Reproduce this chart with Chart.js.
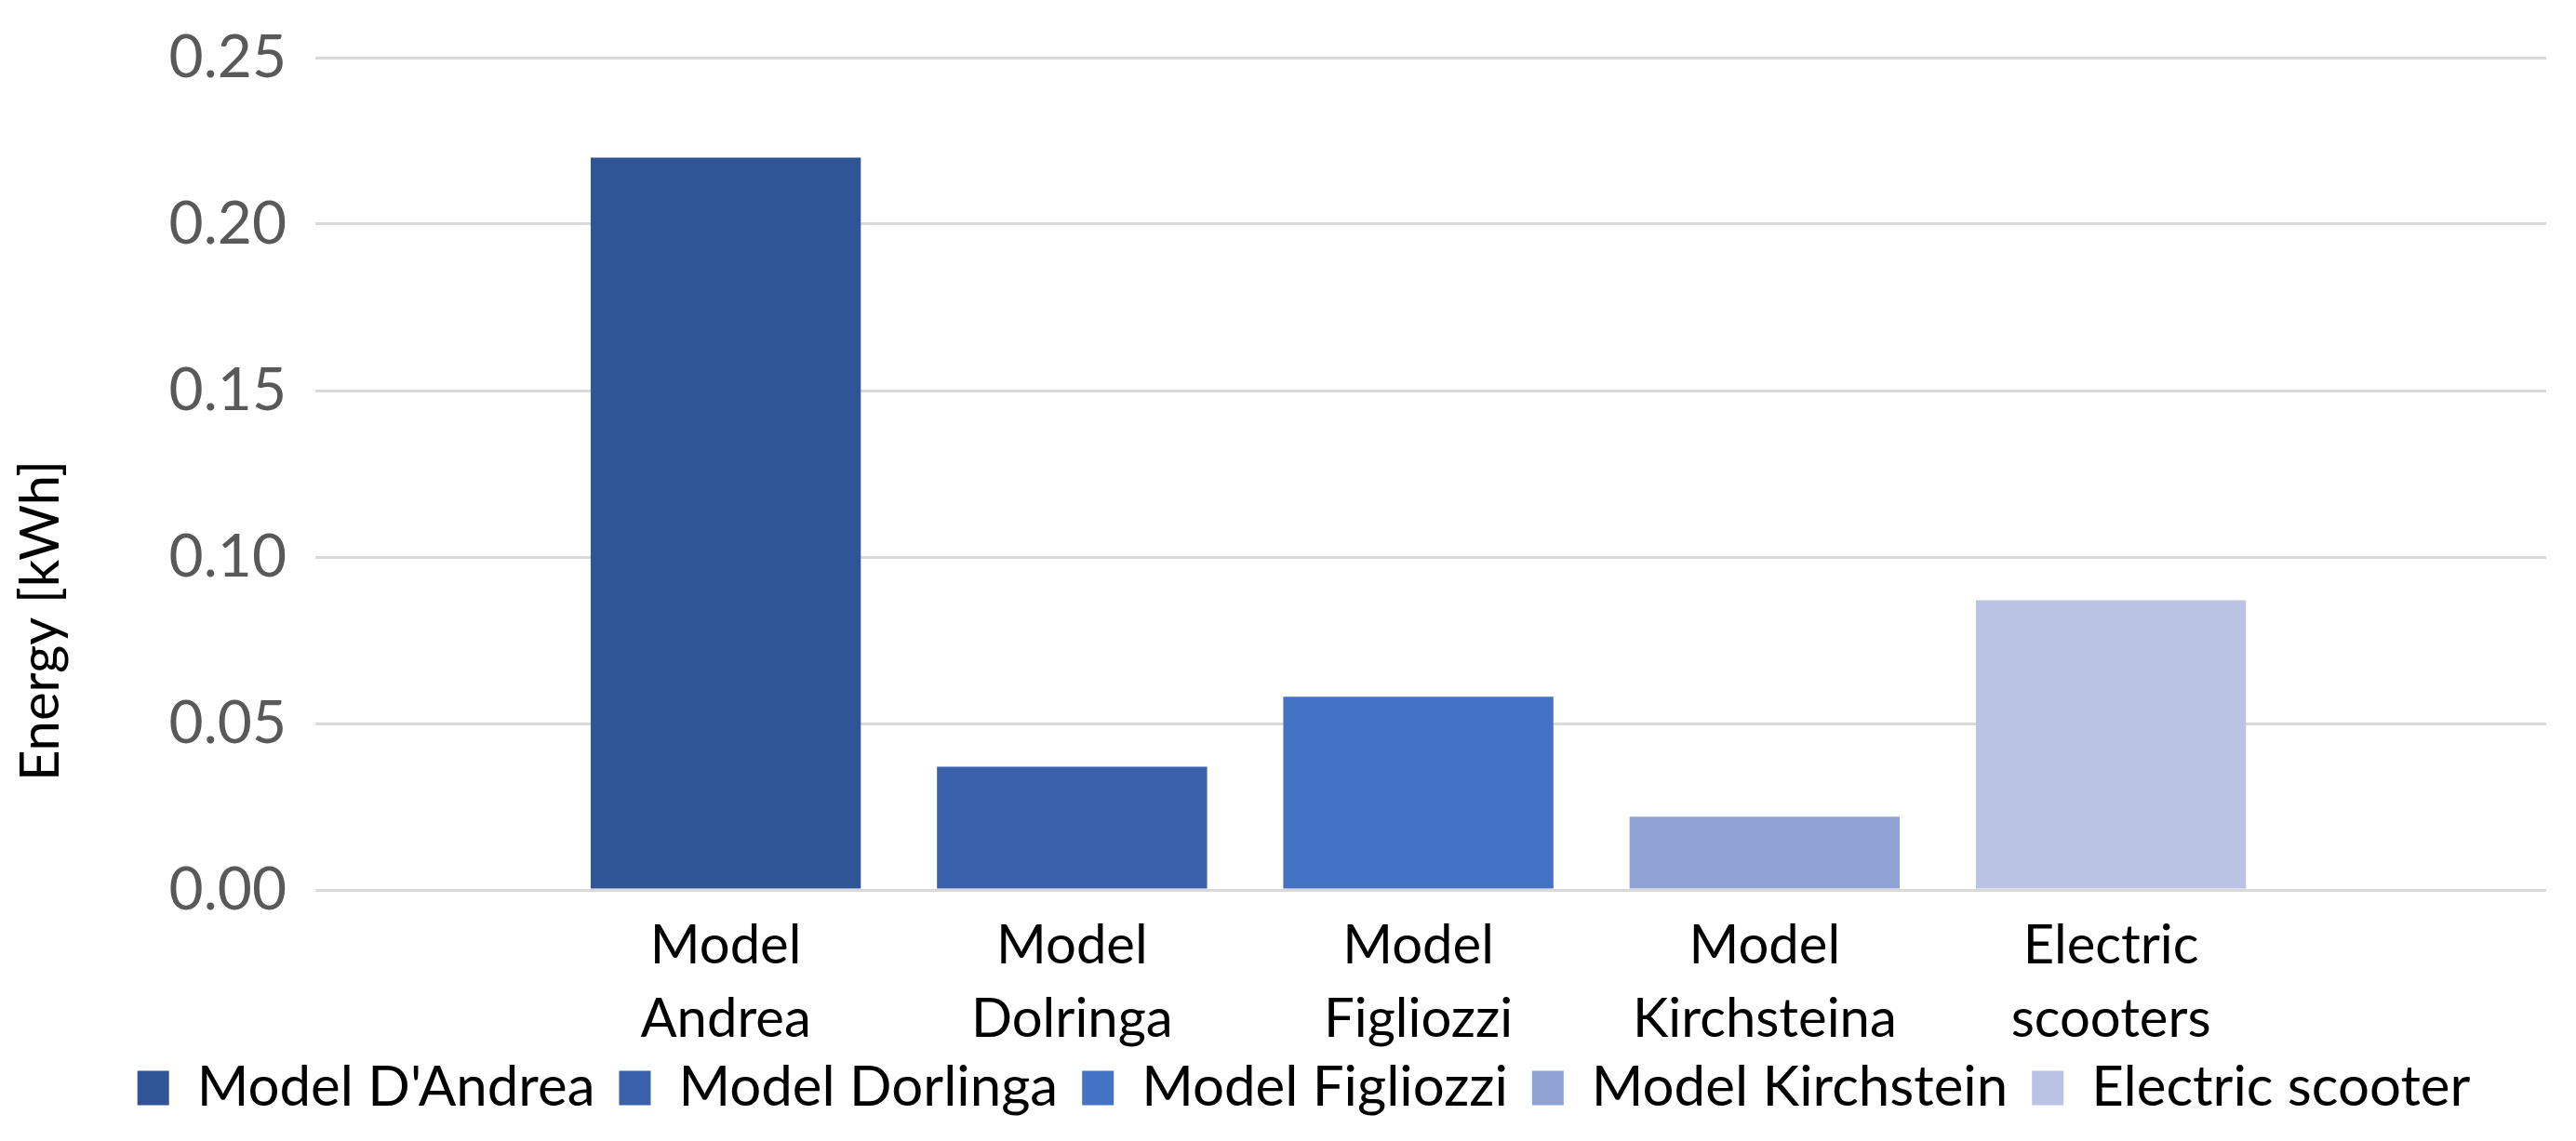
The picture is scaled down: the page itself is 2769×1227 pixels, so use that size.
<!DOCTYPE html>
<html><head><meta charset="utf-8">
<script src="https://cdn.jsdelivr.net/npm/chart.js@4"></script>
<style>html,body{margin:0;padding:0;background:#fff}</style>
</head><body>
<canvas id="c" width="2769" height="1227"></canvas>
<script>
const categories = [["Model","Andrea"],["Model","Dolringa"],["Model","Figliozzi"],["Model","Kirchsteina"],["Electric","scooters"]];
const seriesNames = ["Model D'Andrea","Model Dorlinga","Model Figliozzi","Model Kirchstein","Electric scooter"];
const energyValues = [0.220, 0.037, 0.058, 0.022, 0.087];
const seriesColors = ['#2F5597','#3A62AC','#4472C4','#8FA2D4','#B9C3E3'];
const yTicks = [0, 0.05, 0.10, 0.15, 0.20, 0.25];
const yTitle = 'Energy [kWh]';

const FONT = "Lato, 'Open Sans', sans-serif";

const yTitlePlugin = {
  id: 'yTitleDraw',
  afterUpdate(chart) {
    // let the two-line category labels run below the axis box
    if (chart.scales.x) chart.scales.x._computeLabelArea = () => undefined;
  },
  afterDraw(chart) {
    const ctx = chart.ctx;
    const ys = chart.scales.y;
    ctx.save();
    ctx.translate(44, (ys.top + ys.bottom) / 2 + 158);
    ctx.rotate(-Math.PI / 2);
    ctx.font = "58px " + FONT;
    ctx.fillStyle = '#000';
    ctx.textAlign = 'center';
    ctx.textBaseline = 'middle';
    ctx.fillText(ys.options.title.text, 0, 0);
    ctx.restore();
  }
};

const datasets = seriesNames.map((name, i) => ({
  label: name,
  data: [{x: i, y: energyValues[i]}],
  backgroundColor: seriesColors[i],
  borderWidth: 0,
  grouped: false,
  categoryPercentage: 1,
  barPercentage: 0.78
}));

new Chart(document.getElementById('c'), {
  type: 'bar',
  data: { datasets },
  plugins: [yTitlePlugin],
  options: {
    responsive: false,
    animation: false,
    devicePixelRatio: 1,
    layout: { padding: { top: 62, right: 32, left: 66, bottom: 17 } },
    plugins: {
      tooltip: { enabled: false },
      legend: {
        position: 'bottom',
        labels: {
          font: { family: FONT, size: 60 },
          color: '#000',
          boxWidth: 34,
          boxHeight: 37,
          padding: 26
        }
      }
    },
    scales: {
      x: {
        type: 'linear',
        offset: false,
        min: -1.185,
        max: 5.257,
        afterBuildTicks: (scale) => { scale.ticks = categories.map((c, i) => ({ value: i })); },
        afterFit: (scale) => { scale.height = 157; },
        grid: { display: false, offset: false },
        border: { display: false },
        ticks: {
          autoSkip: false,
          maxRotation: 0,
          minRotation: 0,
          padding: 13,
          color: '#000',
          font: { family: FONT, size: 58, lineHeight: 1.36 },
          callback: (v) => categories[v]
        }
      },
      y: {
        min: 0,
        max: 0.25,
        afterBuildTicks: (scale) => { scale.ticks = yTicks.map(v => ({ value: v })); },
        afterFit: (scale) => { scale.width = 273; scale.paddingTop = 0; scale.paddingBottom = 0; },
        title: { display: false, text: yTitle },
        grid: { color: '#d9d9d9', lineWidth: 3, drawTicks: false },
        border: { display: false },
        ticks: {
          padding: 31,
          color: '#595959',
          font: { family: FONT, size: 64 },
          callback: (v) => Number(v).toFixed(2)
        }
      }
    }
  }
});
</script>
</body></html>
